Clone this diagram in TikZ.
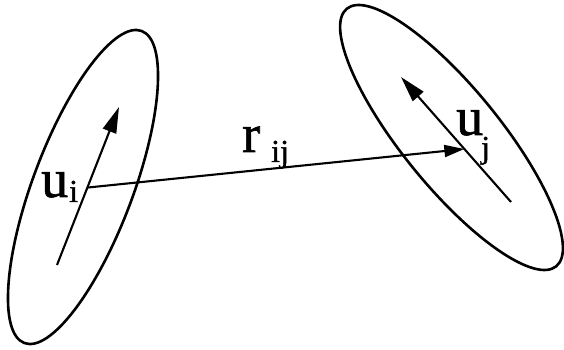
\documentclass[tikz,border=0pt]{standalone}
\usepackage{fontspec}
\setmainfont{Liberation Serif}
\newfontfamily\labfont{Liberation Serif}[FakeBold=1.2]
\usetikzlibrary{arrows.meta,calc}
\begin{document}
\begin{tikzpicture}[x=1pt,y=1pt,
  ell/.style={line width=2.6pt},
  axis/.style={line width=2.1pt,-{Triangle[length=26pt,width=14pt]}},
  sep/.style={line width=2.1pt,-{Triangle[length=20pt,width=12pt]}},
  big/.style={inner sep=0pt,anchor=base west,font=\labfont\fontsize{54}{54}\selectfont},
  sub/.style={inner sep=0pt,anchor=base west,font=\labfont\fontsize{32}{32}\selectfont}]
\useasboundingbox (0,0) rectangle (564,350);
\coordinate (ci) at (83,163);
\coordinate (cj) at (451.5,212.5);
\draw[ell,rotate around={69.4:(ci)}] (ci) ellipse [x radius=166.7pt, y radius=50pt];
\draw[ell,rotate around={129.1:(cj)}] (cj) ellipse [x radius=166pt, y radius=49pt];
\coordinate (ti) at (57,85);
\coordinate (hi) at (119,243);
\coordinate (tj) at (511,148);
\coordinate (hj) at (401,273);
\draw[axis] (ti) -- (hi);
\draw[axis] (tj) -- (hj);
\coordinate (ri) at ($(ti)!0.49!(hi)$);
\coordinate (rj) at ($(tj)!0.424!(hj)$);
\draw[sep] (ri) -- (rj);
\node[big] (u1) at (41,153) {u};
\node[sub] (i1) at (69,148) {i};
\node[big] (r) at (242,198) {r};
\node[sub] (ij) at (271,188) {ij};
\node[big] (u2) at (456,215) {u};
\node[sub] (j2) at (481,192) {j};
\end{tikzpicture}
\end{document}
